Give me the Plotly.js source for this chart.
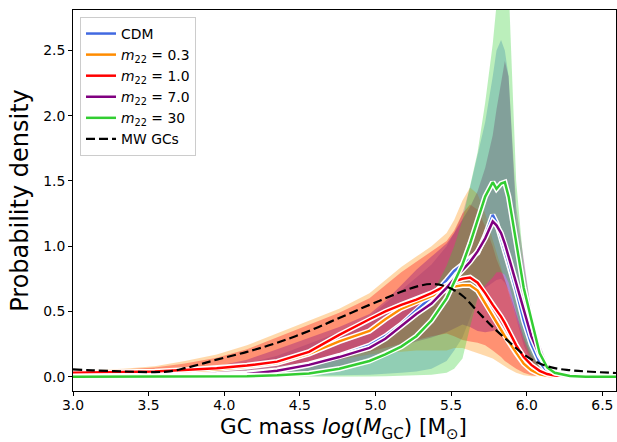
<!DOCTYPE html>
<html><head><meta charset="utf-8">
<script src="https://cdn.plot.ly/plotly-3.0.1.min.js"></script>
<style>html,body{margin:0;padding:0;background:#fff}#chart{width:617px;height:442px}</style>
</head><body><div id="chart"></div>
<script>
// log GC mass grid
const x = [3.0,3.13,3.33,3.54,3.74,3.95,4.15,4.35,4.56,4.76,4.96,5.065,5.17,5.27,5.37,5.47,5.52,5.575,5.625,5.675,5.725,5.775,5.8,5.83,5.855,5.88,5.93,5.98,6.03,6.085,6.135,6.185,6.285,6.39,6.59];

// medians
const cdm = [0.006,0.006,0.006,0.007,0.009,0.014,0.026,0.05,0.095,0.16,0.24,0.31,0.40,0.51,0.61,0.74,0.81,0.86,0.90,0.95,1.08,1.24,1.18,1.06,0.97,0.87,0.66,0.43,0.25,0.11,0.04,0.015,0.003,0,0];
const m03 = [0.02,0.02,0.025,0.03,0.04,0.055,0.075,0.105,0.175,0.27,0.35,0.44,0.52,0.57,0.62,0.67,0.69,0.70,0.70,0.66,0.56,0.46,0.41,0.36,0.31,0.27,0.18,0.10,0.05,0.018,0.006,0.002,0,0,0];
const m1  = [0.03,0.03,0.035,0.04,0.05,0.065,0.085,0.115,0.19,0.32,0.44,0.50,0.55,0.59,0.64,0.70,0.73,0.75,0.76,0.72,0.64,0.55,0.51,0.46,0.41,0.35,0.24,0.15,0.09,0.045,0.02,0.008,0.002,0,0];
const m7  = [0.003,0.003,0.003,0.004,0.006,0.01,0.02,0.045,0.09,0.15,0.22,0.29,0.39,0.48,0.56,0.68,0.75,0.82,0.88,0.96,1.06,1.19,1.16,1.10,1.02,0.92,0.72,0.50,0.31,0.16,0.07,0.03,0.005,0,0];
const m30 = [0,0,0,0,0.001,0.002,0.004,0.01,0.025,0.06,0.12,0.17,0.23,0.31,0.43,0.60,0.73,0.86,1.02,1.20,1.38,1.49,1.44,1.48,1.49,1.38,1.02,0.68,0.44,0.18,0.07,0.03,0.005,0,0];

// percentile bands
const cdmLo = [0,0,0,0,0,0,0.002,0.004,0.006,0.01,0.015,0.02,0.03,0.04,0.06,0.12,0.2,0.3,0.45,0.6,0.68,0.72,0.74,0.75,0.72,0.66,0.45,0.24,0.11,0.04,0.012,0.004,0,0,0];
const cdmHi = [0.02,0.02,0.025,0.03,0.045,0.07,0.10,0.16,0.25,0.34,0.46,0.56,0.66,0.76,0.86,1.0,1.1,1.25,1.45,1.7,1.95,2.3,2.5,2.58,2.5,2.3,1.2,0.8,0.45,0.2,0.08,0.03,0.008,0,0];
const m03Lo = [0.005,0.005,0.008,0.01,0.015,0.03,0.045,0.06,0.09,0.13,0.17,0.185,0.19,0.2,0.2,0.2,0.22,0.22,0.2,0.18,0.16,0.14,0.12,0.10,0.08,0.06,0.03,0.01,0.003,0,0,0,0,0,0];
const m03Hi = [0.05,0.05,0.06,0.08,0.12,0.17,0.24,0.33,0.43,0.52,0.64,0.74,0.84,0.92,1.0,1.1,1.2,1.35,1.45,1.4,1.25,1.05,0.95,0.85,0.75,0.65,0.45,0.28,0.15,0.07,0.03,0.01,0.002,0,0];
const m1Lo  = [0.01,0.01,0.012,0.015,0.02,0.04,0.06,0.08,0.11,0.15,0.19,0.22,0.25,0.28,0.31,0.33,0.31,0.28,0.27,0.26,0.24,0.2,0.18,0.15,0.12,0.1,0.06,0.03,0.01,0.003,0,0,0,0,0];
const m1Hi  = [0.045,0.045,0.055,0.07,0.10,0.145,0.21,0.30,0.40,0.49,0.60,0.70,0.80,0.88,0.96,1.04,1.12,1.25,1.32,1.28,1.15,1.0,0.9,0.82,0.74,0.66,0.48,0.31,0.17,0.08,0.03,0.01,0.002,0,0];
const m7Lo  = [0,0,0,0,0,0.002,0.005,0.01,0.03,0.07,0.15,0.19,0.23,0.27,0.30,0.34,0.37,0.40,0.38,0.35,0.34,0.35,0.36,0.36,0.34,0.30,0.2,0.12,0.06,0.03,0.01,0.003,0,0,0];
const m7Hi  = [0.02,0.02,0.025,0.035,0.05,0.08,0.13,0.21,0.30,0.38,0.48,0.58,0.70,0.82,0.92,1.02,1.1,1.2,1.3,1.42,1.6,1.85,2.05,2.25,2.42,2.3,1.3,0.9,0.5,0.25,0.1,0.04,0.01,0,0];
const m30Lo = [0,0,0,0,0,0,0,0,0,0,0.002,0.004,0.006,0.01,0.015,0.03,0.06,0.14,0.38,0.6,0.70,0.76,0.80,0.80,0.78,0.72,0.5,0.28,0.13,0.05,0.02,0.005,0,0,0];
const m30Hi = [0.005,0.005,0.006,0.008,0.01,0.015,0.025,0.045,0.08,0.13,0.21,0.28,0.36,0.48,0.62,0.85,1.0,1.2,1.45,1.72,2.1,2.55,2.85,3.0,3.0,3.0,1.5,0.85,0.5,0.22,0.08,0.03,0.005,0,0];

// Milky Way GCs
const mwX = [3.0,3.13,3.33,3.54,3.64,3.74,3.84,3.95,4.15,4.35,4.56,4.76,4.96,5.065,5.17,5.27,5.37,5.47,5.575,5.675,5.775,5.88,5.98,6.085,6.185,6.285,6.39,6.59];
const mwY = [0.055,0.048,0.04,0.035,0.04,0.065,0.095,0.13,0.19,0.26,0.35,0.45,0.55,0.60,0.65,0.69,0.71,0.69,0.62,0.50,0.38,0.27,0.17,0.10,0.065,0.05,0.04,0.028];

const names = ['CDM','<i>m</i><sub>22</sub> = 0.3','<i>m</i><sub>22</sub> = 1.0','<i>m</i><sub>22</sub> = 7.0','<i>m</i><sub>22</sub> = 30'];
const xTicks = [3.0,3.5,4.0,4.5,5.0,5.5,6.0,6.5];
const yTicks = [0.0,0.5,1.0,1.5,2.0,2.5];
const xTitle = 'GC mass <i>log</i>(<i>M</i><sub>GC</sub>) [M<sub>⊙</sub>]';
const yTitle = 'Probability density';

const colors = ['#4169e1','#ff8c00','#ff0000','#800080','#32cd32'];
const fills = ['rgba(65,105,225,0.33)','rgba(255,140,0,0.33)','rgba(255,0,0,0.33)','rgba(128,0,128,0.33)','rgba(50,205,50,0.33)'];
const meds = [cdm,m03,m1,m7,m30];
const los = [cdmLo,m03Lo,m1Lo,m7Lo,m30Lo];
const his = [cdmHi,m03Hi,m1Hi,m7Hi,m30Hi];

const traces = [];
const xr = x.slice().reverse();
for (let i=0;i<5;i++){
  traces.push({x:x.concat(xr), y:his[i].concat(los[i].slice().reverse()), type:'scatter', mode:'lines',
    fill:'toself', fillcolor:fills[i], line:{width:0,color:fills[i]}, hoverinfo:'skip', showlegend:false});
}
for (let i=0;i<5;i++){
  traces.push({x:x, y:meds[i], type:'scatter', mode:'lines', line:{color:'white', width:5.5}, showlegend:false, hoverinfo:'skip'});
  traces.push({x:x, y:meds[i], type:'scatter', mode:'lines', line:{color:colors[i], width:2.5}, name:names[i]});
}
traces.push({x:mwX, y:mwY, type:'scatter', mode:'lines', line:{color:'black', width:2.2, dash:'9px,4px', shape:'spline'}, name:'MW GCs'});

const axisCommon = {ticks:'outside', ticklen:4, tickwidth:1, tickcolor:'black', showline:true, linecolor:'black', linewidth:1,
  mirror:true, showgrid:false, zeroline:false, tickfont:{size:13.9, color:'black'}};

const layout = {
  width:617, height:442,
  margin:{l:73, r:1, t:10, b:51},
  paper_bgcolor:'white', plot_bgcolor:'white',
  font:{family:'DejaVu Sans', color:'black', size:13.9},
  showlegend:true,
  xaxis:Object.assign({}, axisCommon, {range:[3,6.59], tickvals:xTicks, ticktext:xTicks.map(v=>v.toFixed(1)), ticklabelstandoff:-3}),
  yaxis:Object.assign({}, axisCommon, {range:[-0.11,2.81], tickvals:yTicks, ticktext:yTicks.map(v=>v.toFixed(1)),
    title:{text:yTitle, font:{size:24}, standoff:7}}),
  annotations:[{text:xTitle, xref:'paper', yref:'paper', x:0.498, y:-0.0975, xanchor:'center', yanchor:'middle',
    showarrow:false, font:{size:21.5, color:'black'}}],
  legend:{x:0.0129, y:0.9816, xanchor:'left', yanchor:'top', bgcolor:'rgba(255,255,255,0.85)', bordercolor:'#cccccc', borderwidth:1,
    font:{size:13.9}, itemwidth:30}
};
Plotly.newPlot('chart', traces, layout, {displayModeBar:false, staticPlot:true});
</script></body></html>
